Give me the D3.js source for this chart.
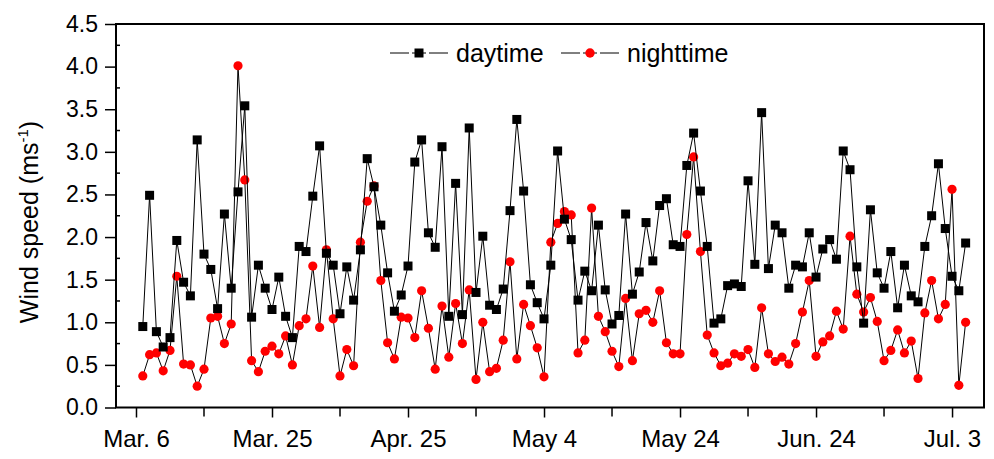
<!DOCTYPE html>
<html>
<head>
<meta charset="utf-8">
<script src="https://cdn.jsdelivr.net/npm/d3@7"></script>
<style>
    body { margin: 0; background: white; }
    text { font-family: "Liberation Sans", Arial, sans-serif; fill: black; }
</style>
</head>
<body>
<svg id="chart" width="994" height="459"></svg>
<script>
// x positions are day index, labels only at every 20th point
const tickIndex = [0, 20, 40, 60, 80, 100, 120];
const tickLabels = ["Mar. 6", "Mar. 25", "Apr. 25", "May 4", "May 24", "Jun. 24", "Jul. 3"];
const minorIndex = [10, 30, 50, 70, 90, 110];
const yTicks = [0, 0.5, 1.0, 1.5, 2.0, 2.5, 3.0, 3.5, 4.0, 4.5];
const seriesNames = ["daytime", "nighttime"];

const daytime = [0.95, 2.49, 0.89, 0.71, 0.82, 1.96, 1.47, 1.31, 3.14, 1.80,
    1.62, 1.16, 2.27, 1.40, 2.53, 3.54, 1.06, 1.67, 1.40, 1.15,
    1.53, 1.07, 0.82, 1.89, 1.83, 2.48, 3.07, 1.81, 1.67, 1.10,
    1.65, 1.26, 1.85, 2.92, 2.59, 2.14, 1.58, 1.13, 1.32, 1.66,
    2.88, 3.14, 2.05, 1.88, 3.06, 1.07, 2.63, 1.09, 3.28, 1.35,
    2.01, 1.20, 1.15, 1.39, 2.31, 3.38, 2.54, 1.44, 1.23, 1.04,
    1.67, 3.01, 2.21, 1.97, 1.26, 1.60, 1.37, 2.14, 1.38, 0.98,
    1.08, 2.27, 1.33, 1.59, 2.17, 1.72, 2.37, 2.45, 1.91, 1.89,
    2.84, 3.22, 2.54, 1.89, 0.99, 1.04, 1.43, 1.45, 1.42, 2.66,
    1.68, 3.46, 1.63, 2.14, 2.05, 1.40, 1.67, 1.65, 2.05, 1.53,
    1.86, 1.97, 1.74, 3.01, 2.79, 1.65, 0.99, 2.32, 1.58, 1.40,
    1.83, 1.17, 1.67, 1.31, 1.24, 1.89, 2.25, 2.86, 2.10, 1.54,
    1.37, 1.93];

const nighttime = [0.37, 0.62, 0.64, 0.43, 0.67, 1.54, 0.51, 0.50, 0.25, 0.45,
    1.05, 1.07, 0.75, 0.98, 4.01, 2.67, 0.55, 0.42, 0.66, 0.72,
    0.63, 0.84, 0.50, 0.96, 1.04, 1.66, 0.94, 1.85, 1.04, 0.37,
    0.68, 0.49, 1.94, 2.42, 2.60, 1.49, 0.76, 0.57, 1.06, 1.05,
    0.82, 1.37, 0.93, 0.45, 1.19, 0.59, 1.22, 0.75, 1.38, 0.33,
    1.00, 0.42, 0.46, 0.79, 1.71, 0.57, 1.21, 0.96, 0.70, 0.36,
    1.94, 2.16, 2.30, 2.26, 0.64, 0.79, 2.34, 1.07, 0.89, 0.66,
    0.48, 1.28, 0.55, 1.10, 1.14, 1.00, 1.37, 0.76, 0.63, 0.63,
    2.03, 2.94, 1.83, 0.85, 0.64, 0.49, 0.52, 0.63, 0.60, 0.68,
    0.47, 1.17, 0.63, 0.54, 0.59, 0.51, 0.75, 1.12, 1.49, 0.60,
    0.77, 0.84, 1.13, 0.92, 2.01, 1.33, 1.12, 1.29, 1.01, 0.55,
    0.67, 0.91, 0.64, 0.78, 0.34, 1.11, 1.49, 1.04, 1.21, 2.56,
    0.26, 1.00];

var svg = d3.select("#chart");
var plotLeft = 116, plotRight = 984, plotTop = 24, plotBottom = 407.5;

var x = d3.scaleLinear().domain([-2.94, 124.7]).range([plotLeft, plotRight]);
var y = d3.scaleLinear().domain([0, 4.5]).range([plotBottom, plotTop]);

function drawAxes() {
    // plot frame
    svg.append("rect")
        .attr("x", plotLeft).attr("y", plotTop)
        .attr("width", plotRight - plotLeft).attr("height", plotBottom - plotTop)
        .attr("fill", "none").attr("stroke", "black").attr("stroke-width", 2);

    // y axis, outward major ticks and small inner minor ticks
    var yAxis = d3.axisLeft(y).tickValues(yTicks).tickSize(11).tickPadding(7)
        .tickFormat(d3.format(".1f"));
    var gy = svg.append("g").attr("transform", "translate(" + plotLeft + ",0)").call(yAxis);
    gy.select(".domain").remove();
    gy.selectAll("line").attr("stroke-width", 1.5);
    gy.selectAll("text").style("font-size", "23px").style("font-family", "Liberation Sans, Arial, sans-serif");

    var yMinor = d3.range(0.25, 4.5, 0.5);
    svg.selectAll("line.yminor").data(yMinor).enter().append("line")
        .attr("class", "yminor")
        .attr("x1", plotLeft).attr("x2", plotLeft + 4)
        .attr("y1", d => y(d)).attr("y2", d => y(d))
        .attr("stroke", "black").attr("stroke-width", 1.5);

    // x axis
    var xAxis = d3.axisBottom(x).tickValues(tickIndex).tickSize(10).tickPadding(12)
        .tickFormat((d, i) => tickLabels[i]);
    var gx = svg.append("g").attr("transform", "translate(0," + plotBottom + ")").call(xAxis);
    gx.select(".domain").remove();
    gx.selectAll("line").attr("stroke-width", 1.5);
    gx.selectAll("text").style("font-size", "24px").style("font-family", "Liberation Sans, Arial, sans-serif");

    svg.selectAll("line.xminor").data(minorIndex).enter().append("line")
        .attr("class", "xminor")
        .attr("x1", d => x(d)).attr("x2", d => x(d))
        .attr("y1", plotBottom).attr("y2", plotBottom + 9)
        .attr("stroke", "black").attr("stroke-width", 1.5);

    // y label with superscript
    var lbl = svg.append("text")
        .attr("transform", "translate(38,222) rotate(-90)")
        .style("text-anchor", "middle")
        .style("font-size", "25px");
    lbl.append("tspan").text("Wind speed (ms");
    lbl.append("tspan").attr("dy", -10).style("font-size", "15px").text("-1");
    lbl.append("tspan").attr("dy", 10).text(")");
}

function drawSeries(values, isDay) {
    var pts = values.map((v, i) => ({ i: i + 1, v: v }));
    var line = d3.line().x(d => x(d.i)).y(d => y(d.v));

    svg.append("path")
        .datum(pts)
        .attr("d", line)
        .attr("fill", "none")
        .attr("stroke", "black")
        .attr("stroke-width", 1);

    if (isDay) {
        svg.selectAll("rect.day").data(pts).enter().append("rect")
            .attr("class", "day")
            .attr("x", d => x(d.i) - 4.5).attr("y", d => y(d.v) - 4.5)
            .attr("width", 9).attr("height", 9)
            .attr("fill", "black");
    } else {
        svg.selectAll("circle.night").data(pts).enter().append("circle")
            .attr("class", "night")
            .attr("cx", d => x(d.i)).attr("cy", d => y(d.v))
            .attr("r", 4.6)
            .attr("fill", "#ff0000");
    }
}

function addLegend() {
    var items = [
        { name: seriesNames[0], x0: 390, isDay: true },
        { name: seriesNames[1], x0: 561, isDay: false }
    ];
    var ly = 53;
    items.forEach(it => {
        var g = svg.append("g");
        g.append("line").attr("x1", it.x0).attr("x2", it.x0 + 58)
            .attr("y1", ly).attr("y2", ly).attr("stroke", "black").attr("stroke-width", 1);
        // gaps either side of the marker
        g.append("rect").attr("x", it.x0 + 19).attr("y", ly - 1).attr("width", 3).attr("height", 2).attr("fill", "white");
        g.append("rect").attr("x", it.x0 + 36).attr("y", ly - 1).attr("width", 3).attr("height", 2).attr("fill", "white");
        if (it.isDay) {
            g.append("rect").attr("x", it.x0 + 24.5).attr("y", ly - 4.5)
                .attr("width", 9).attr("height", 9).attr("fill", "black");
        } else {
            g.append("circle").attr("cx", it.x0 + 29).attr("cy", ly).attr("r", 4.7)
                .attr("fill", "#ff0000");
        }
        g.append("text").attr("x", it.x0 + 66).attr("y", ly + 9)
            .style("font-size", "25px").text(it.name);
    });
}

drawAxes();
drawSeries(nighttime, false);
drawSeries(daytime, true);
addLegend();
</script>
</body>
</html>
